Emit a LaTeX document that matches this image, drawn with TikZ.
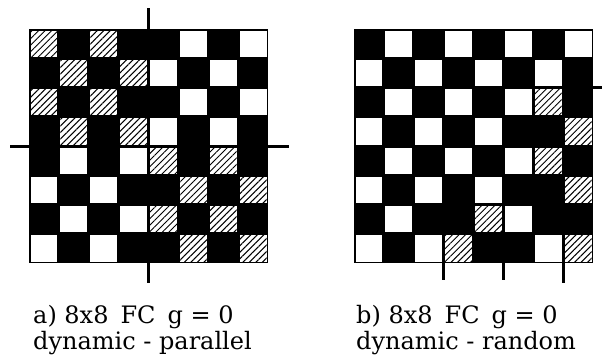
\documentclass[tikz,border=0pt]{standalone}
\usepackage{fontspec}
\setmainfont{DejaVu Serif}
\usetikzlibrary{patterns.meta}
\begin{document}
\begin{tikzpicture}[x=1pt,y=-1pt]
\tikzstyle{board}=[fill=black]
\tikzstyle{empty}=[fill=white]
\tikzstyle{hatch}=[fill=white,postaction={pattern={Lines[angle=45,distance=4.6pt,line width=1pt]}}]
\tikzstyle{tick}=[line width=3pt]
\tikzstyle{caption}=[anchor=base west,inner sep=0pt,font=\fontsize{24}{28}\selectfont]
\def\cw{29.875}
\def\ch{29.25}
\useasboundingbox (0,0) rectangle (602,362);

% a) parallel update
\begin{scope}[shift={(29,29)}]
  \fill[board] (0,0) rectangle (8*\cw,8*\ch);
  \foreach \c/\r in {5/0,7/0,4/1,6/1,5/2,7/2,4/3,6/3,
                     1/4,3/4,0/5,2/5,1/6,3/6,0/7,2/7}
    \path[empty] (\c*\cw+1.5,\r*\ch+1.5) rectangle ++(\cw-3,\ch-3);
  \foreach \c/\r in {0/0,2/0,1/1,3/1,0/2,2/2,1/3,3/3,
                     4/4,6/4,5/5,7/5,4/6,6/6,5/7,7/7}
    \path[hatch] (\c*\cw+1.5,\r*\ch+1.5) rectangle ++(\cw-3,\ch-3);
  % cross marks
  \draw[tick] (4*\cw,-21) -- (4*\cw,0);
  \draw[tick] (4*\cw,8*\ch) -- ++(0,20);
  \draw[tick] (-19,4*\ch) -- (0,4*\ch);
  \draw[tick] (8*\cw,4*\ch) -- ++(21,0);
\end{scope}

% b) random update
\begin{scope}[shift={(354,29)}]
  \fill[board] (0,0) rectangle (8*\cw,8*\ch);
  \foreach \c/\r in {1/0,3/0,5/0,7/0,0/1,2/1,4/1,6/1,
                     1/2,3/2,5/2,0/3,2/3,4/3,1/4,3/4,5/4,
                     0/5,2/5,4/5,1/6,5/6,0/7,2/7,6/7}
    \path[empty] (\c*\cw+1.5,\r*\ch+1.5) rectangle ++(\cw-3,\ch-3);
  \foreach \c/\r in {6/2,7/3,6/4,7/5,4/6,3/7,7/7}
    \path[hatch] (\c*\cw+1.5,\r*\ch+1.5) rectangle ++(\cw-3,\ch-3);
  % marks
  \draw[tick] (3*\cw,8*\ch) -- ++(0,17);
  \draw[tick] (5*\cw,8*\ch) -- ++(0,17);
  \draw[tick] (7*\cw,8*\ch) -- ++(0,20);
  \draw[tick] (8*\cw,2*\ch) -- ++(12,0);
\end{scope}

% captions
\node[caption] (capa1) at (33,323) {a) 8x8\hspace{0.5em}FC\hspace{0.5em}g = 0};
\node[caption] (capa2) at (33,349) {dynamic - parallel};
\node[caption] (capb1) at (356,323) {b) 8x8\hspace{0.5em}FC\hspace{0.5em}g = 0};
\node[caption] (capb2) at (356,349) {dynamic - random};
\end{tikzpicture}
\end{document}
